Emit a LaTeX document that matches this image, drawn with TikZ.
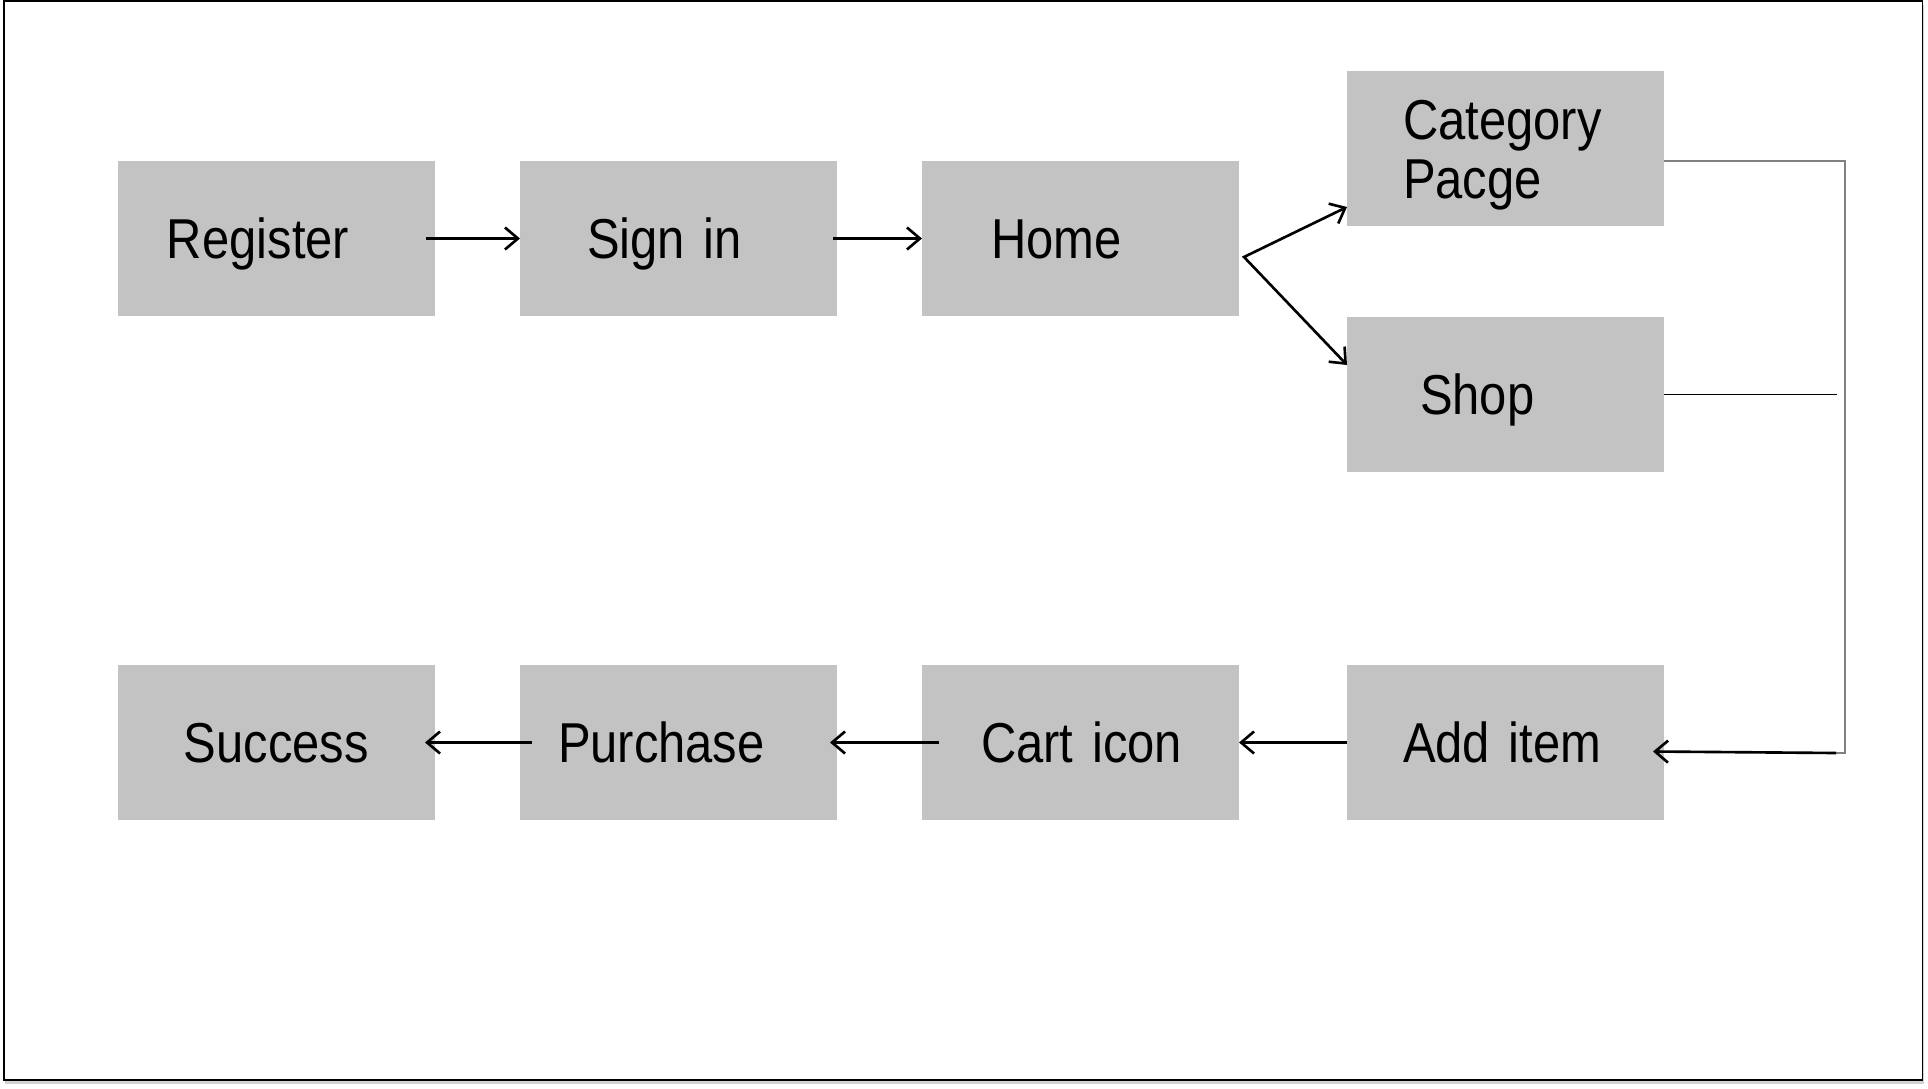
\documentclass[tikz,border=0pt]{standalone}
\usepackage{fontspec}
\setmainfont[FakeStretch=0.87,WordSpace=0.8]{Liberation Sans}
\usetikzlibrary{arrows.meta,positioning,shadows}

\definecolor{boxgray}{RGB}{195,195,195}
\definecolor{wiregray}{RGB}{128,128,128}

\tikzset{
    box/.style={fill=boxgray, minimum height=1.55cm, inner sep=0pt, outer sep=0pt,
        text width=3.17cm, align=left, execute at begin node={\leftskip=#1},
        text height=0.4cm, text depth=0pt},
    flow/.style={line width=0.75pt, line join=miter,
        -{Straight Barb[length=1.3mm,width=2.2mm]}},
    wire/.style={line width=0.45pt, color=wiregray},
}

\begin{document}
\begin{tikzpicture}[node distance=0.85cm, font=\fontsize{16}{17}\selectfont]
    \useasboundingbox (-2.765,2.385) rectangle (16.515,-8.495);
    \draw [fill=white, line width=0.5pt,
        drop shadow={shadow xshift=0.01cm, shadow yshift=-0.04cm, opacity=0.35}]
        (-2.725,2.375) rectangle (16.46,-8.415);

    % top row
    \node [box=0.49cm] (reg) at (0,0) {Register};
    \node [box=0.67cm, right=of reg]  (sign) {Sign in};
    \node [box=0.69cm, right=of sign] (home) {Home};
    \node [box=0.56cm, text depth=0.59cm, right=1.08cm of home, yshift=0.9cm] (cat) {Category\\Pacge};
    \node [box=0.73cm, below=0.91cm of cat] (shop) {Shop};

    % bottom row
    \node [box=0.66cm, below=3.49cm of reg] (succ) {Success};
    \node [box=0.38cm, right=of succ]  (purch) {Purchase};
    \node [box=0.59cm, right=of purch] (cart) {Cart icon};
    \node [box=0.56cm, right=1.08cm of cart] (add) {Add item};

    \draw [flow] ([xshift=-0.09cm]reg.east) -- (sign.west);
    \draw [flow] ([xshift=-0.04cm]sign.east) -- (home.west);

    \coordinate (fork) at ([xshift=0.05cm, yshift=-0.185cm]home.east);
    \draw [flow, {Straight Barb[length=1.3mm,width=2.2mm]}-{Straight Barb[length=1.3mm,width=2.2mm]}]
        ([yshift=0.19cm]cat.south west) -- (fork) -- ([yshift=-0.48cm]shop.north west);

    \coordinate (rail) at ([xshift=1.81cm, yshift=-0.105cm]add.east);
    \draw [wire] ([yshift=-0.125cm]cat.east) -| (rail) -- ([xshift=-0.09cm]rail);
    \draw [flow] ([xshift=-0.09cm]rail) -- ([xshift=-0.11cm, yshift=-0.09cm]add.east);

    \coordinate (shopend) at ([xshift=1.73cm]shop.east);
    \draw [line width=0.55pt] (shop.east) -- (shopend);

    \draw [flow] (add.west) -- (cart.east);
    \draw [flow] ([xshift=0.17cm]cart.west) -- ([xshift=-0.07cm]purch.east);
    \draw [flow] ([xshift=0.12cm]purch.west) -- ([xshift=-0.10cm]succ.east);
\end{tikzpicture}
\end{document}
